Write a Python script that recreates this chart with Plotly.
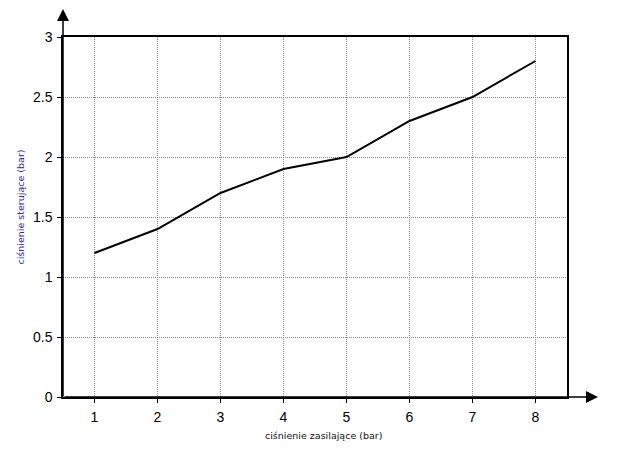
import plotly.graph_objects as go

# ciśnienie zasilające (bar) -> ciśnienie sterujące (bar)
zasilanie = [1, 2, 3, 4, 5, 6, 7, 8]
sterowanie = [1.2, 1.4, 1.7, 1.9, 2.0, 2.3, 2.5, 2.8]
y_ticks = [0, 0.5, 1, 1.5, 2, 2.5, 3]
y_tick_labels = ['0', '0.5', '1', '1.5', '2', '2.5', '3']

fig = go.Figure()

fig.add_trace(go.Scatter(
  x=zasilanie,
  y=sterowanie,
  mode='lines',
  line=dict(color='black', width=2),
  showlegend=False
))

grid = dict(
  showgrid=True,
  gridcolor='#8a8a8a',
  griddash='1px,1px',
  gridwidth=1,
  ticks='outside',
  ticklen=4,
  tickcolor='black',
  zeroline=False,
  tickfont=dict(family='Liberation Sans, Arial', size=14, color='black')
)

fig.update_xaxes(
  range=[0.5, 8.5],
  tickvals=zasilanie,
  ticklabelstandoff=2,
  showline=True, linecolor='black', linewidth=2, mirror=True,
  **grid
)
fig.update_yaxes(
  range=[0, 3],
  tickvals=y_ticks,
  ticktext=y_tick_labels,
  ticklabelstandoff=2,
  showline=True, linecolor='black', linewidth=1.5, mirror=True,
  **grid
)

# strzałki osi
fig.add_annotation(x=0, y=1.097, xref='paper', yref='paper',
                   ax=0, ay=396, showarrow=True, arrowhead=2,
                   arrowsize=1.6, arrowwidth=1.5, arrowcolor='black', text='')
fig.add_annotation(x=1.0615, y=0, xref='paper', yref='paper',
                   ax=-535, ay=0, showarrow=True, arrowhead=2,
                   arrowsize=1.6, arrowwidth=1.5, arrowcolor='black', text='')

# tytuły osi
fig.add_annotation(
  x=(323 - 63) / 504, y=-(443 - 397) / 360, xref='paper', yref='paper',
  text='ciśnienie zasilające (bar)', showarrow=False,
  font=dict(family='DejaVu Sans', size=9.5, color='#111111')
)
fig.add_annotation(
  x=-(63 - 12) / 504, y=(397 - 207) / 360, xref='paper', yref='paper',
  text='ciśnienie sterujące (bar)', showarrow=False, textangle=-90,
  font=dict(family='DejaVu Sans', size=9.5, color='#2a2a9a')
)

# strona ma 8px marginesu, więc figura jest o tyle mniejsza
fig.update_layout(
  width=613, height=445,
  margin=dict(l=55, r=54, t=29, b=56, autoexpand=False),
  plot_bgcolor='white',
  paper_bgcolor='white'
)

fig.write_html('out.html')
